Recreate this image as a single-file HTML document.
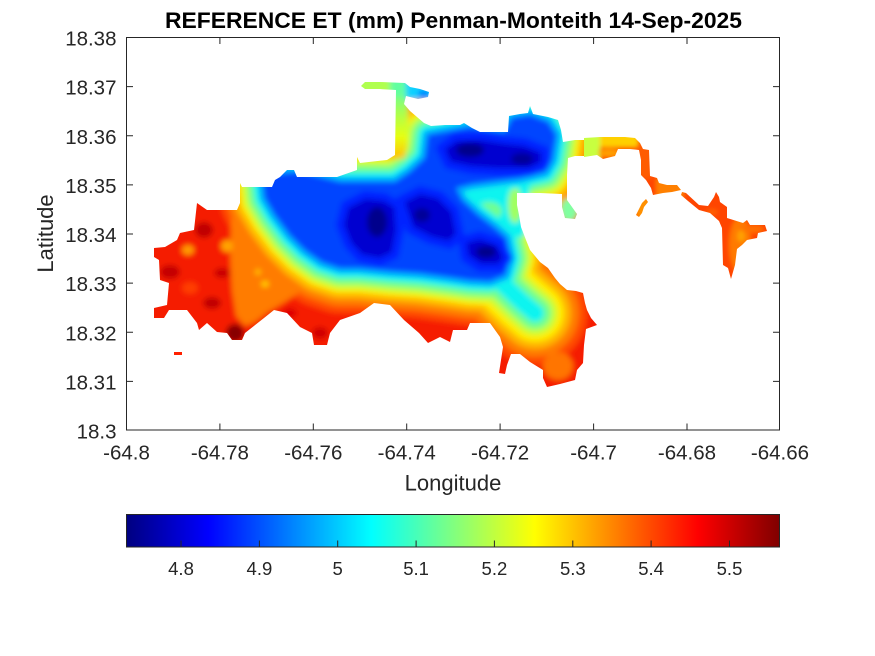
<!DOCTYPE html>
<html><head><meta charset="utf-8"><style>
html,body{margin:0;padding:0;background:#fff;}
svg{display:block;}
text{font-family:"Liberation Sans",Arial,sans-serif;fill:#262626;}
</style></head><body>
<svg width="875" height="656" viewBox="0 0 875 656" xmlns="http://www.w3.org/2000/svg">
<defs>
<linearGradient id="jet" x1="0" y1="0" x2="1" y2="0">
<stop offset="0" stop-color="#000080"/><stop offset="0.125" stop-color="#0000ff"/><stop offset="0.375" stop-color="#00ffff"/><stop offset="0.5" stop-color="#80ff80"/><stop offset="0.625" stop-color="#ffff00"/><stop offset="0.875" stop-color="#ff0000"/><stop offset="1" stop-color="#800000"/>
</linearGradient>
<linearGradient id="stemg" gradientUnits="userSpaceOnUse" x1="0" y1="88" x2="0" y2="158">
<stop offset="0" stop-color="#60ffa0"/><stop offset="0.35" stop-color="#a8ff50"/><stop offset="0.7" stop-color="#e8ff10"/><stop offset="1" stop-color="#ffc000"/>
</linearGradient>
<filter id="bl" filterUnits="userSpaceOnUse" x="0" y="0" width="875" height="656"><feGaussianBlur stdDeviation="2.6"/></filter>
<filter id="bl2" filterUnits="userSpaceOnUse" x="0" y="0" width="875" height="656"><feGaussianBlur stdDeviation="2"/></filter>
<clipPath id="mainclip">
<path d="M361,86 L365,82 L380,82 L405,83 L410,87 L420,89 L429,92 L428,97 L418,99 L406,96 L404,104 L410,111 L417,117 L424,123 L431,126 L445,125 L460,125 L464,123 L472,128 L480,132 L508,132 L509,116 L520,114 L528,113 L530,106 L533,114 L548,117 L558,120 L561,130 L563,142 L575,140 L584,140 L584,156 L575,156 L568,158 L567,175 L567,200 L572,207 L577,214 L575,219 L565,218 L562,207 L562,194 L540,193 L517,193 L517,205 L519,215 L521,227 L526,240 L530,250 L540,262 L548,268 L555,278 L560,284 L567,290 L576,291 L583,293 L585,303 L587,310 L591,318 L597,325 L586,329 L584,345 L583,363 L577,370 L575,380 L560,384 L547,387 L543,378 L543,370 L530,362 L520,354 L511,354 L507,365 L505,374 L499,373 L501,360 L503,347 L500,337 L490,323 L470,323 L467,330 L453,330 L450,342 L440,337 L428,343 L419,333 L404,320 L390,305 L374,303 L360,313 L340,320 L330,333 L327,345 L314,345 L312,333 L300,327 L287,313 L274,310 L264,318 L245,333 L242,340 L232,340 L227,333 L217,332 L207,323 L199,330 L197,323 L187,310 L169,310 L164,318 L154,318 L154,308 L167,305 L169,283 L160,280 L159,260 L154,257 L154,248 L165,247 L177,240 L180,233 L194,230 L197,203 L207,210 L237,210 L240,203 L240,183 L242,187 L272,187 L275,180 L280,177 L287,170 L294,170 L297,177 L337,177 L357,170 L357,157 L360,163 L387,160 L395,155 L396,90 L380,89 L365,89 Z"/>
</clipPath>
<clipPath id="eastclip">
<path d="M584,138 L600,137 L625,137 L635,138 L640,143 L643,149 L649,150 L650,176 L657,178 L659,183 L667,185 L677,185 L681,190 L672,192 L663,193 L653,195 L651,188 L646,180 L641,175 L641,160 L639,150 L630,149 L618,149 L615,156 L603,159 L597,155 L584,157 Z"/>
<path d="M682,192 L686,193 L699,205 L708,206 L714,197 L716,192 L719,197 L720,202 L727,207 L727,218 L743,223 L747,220 L750,225 L765,225 L767,231 L758,233 L757,238 L747,240 L742,245 L737,249 L735,265 L733,272 L731,279 L728,268 L723,265 L722,228 L719,221 L710,213 L699,210 L688,201 L681,195 Z"/>
<path d="M646,199 L648,202 L644,207 L642,213 L639,217 L636,215 L639,209 L642,203 Z"/>
</clipPath>
<path id="bp" d="M262,175 L300,172 L340,182 L395,182 L410,172 L425,158 L428,135 L470,127 L505,132 L512,118 L530,115 L548,122 L556,135 L552,160 L545,172 L520,178 L495,181 L472,184 L456,188 L462,200 L478,215 L495,228 L506,238 L510,258 L505,275 L490,281 L470,280 L450,277 L420,273 L390,271 L360,268 L340,268 L322,262 L305,250 L290,235 L275,215 L265,198 Z"/>
<path id="rp" d="M502,283 L522,302 L535,313" fill="none" stroke-linecap="round" stroke-linejoin="round"/>
</defs>

<rect x="0" y="0" width="875" height="656" fill="#ffffff"/>

<!-- main landmass -->
<g clip-path="url(#mainclip)">
<g filter="url(#bl)" stroke-linejoin="round">
<rect x="130" y="60" width="480" height="350" fill="#f51a00"/>
<ellipse cx="235" cy="333" rx="9" ry="9" fill="#880000"/>
<ellipse cx="204" cy="230" rx="9" ry="8" fill="#c00000"/>
<ellipse cx="170" cy="272" rx="10" ry="7" fill="#c40000"/>
<ellipse cx="212" cy="303" rx="9" ry="6" fill="#c00000"/>
<ellipse cx="222" cy="273" rx="8" ry="5" fill="#c80000"/>
<ellipse cx="320" cy="333" rx="8" ry="6" fill="#d00000"/>
<ellipse cx="290" cy="313" rx="7" ry="5" fill="#dd0000"/>
<ellipse cx="190" cy="288" rx="8" ry="6" fill="#ff3c00"/>
<use href="#bp" fill="#ff4a00" stroke="#ff4a00" stroke-width="90"/>
<use href="#rp" stroke="#ff4a00" stroke-width="104"/>
<use href="#bp" fill="#ff7c00" stroke="#ff7c00" stroke-width="76"/>
<use href="#rp" stroke="#ff7c00" stroke-width="88"/>
<path d="M232,205 L245,215 L258,245 L275,262 L292,278 L300,292 L285,302 L268,312 L255,322 L245,326 L236,316 L232,290 L230,250 Z" fill="#ff7c00"/>
<ellipse cx="188" cy="250" rx="6" ry="5" fill="#ff9c00"/>
<ellipse cx="227" cy="246" rx="6" ry="6" fill="#ffa400"/>
<ellipse cx="558" cy="366" rx="15" ry="14" fill="#ff7400"/>
<use href="#bp" fill="#ffb400" stroke="#ffb400" stroke-width="62"/>
<use href="#rp" stroke="#ffb400" stroke-width="72"/>
<use href="#bp" fill="#ffec00" stroke="#ffec00" stroke-width="50"/>
<use href="#rp" stroke="#ffec00" stroke-width="58"/>
<ellipse cx="265" cy="284" rx="4" ry="3" fill="#ffd000"/>
<ellipse cx="258" cy="272" rx="3" ry="3" fill="#ffc000"/>
<use href="#bp" fill="#c4ff3a" stroke="#c4ff3a" stroke-width="42"/>
<use href="#rp" stroke="#c4ff3a" stroke-width="44"/>
<use href="#bp" fill="#70ff8f" stroke="#70ff8f" stroke-width="32"/>
<use href="#rp" stroke="#70ff8f" stroke-width="32"/>
<path d="M456,186 L500,180 L530,185 L525,236 L505,240 L470,232 Z" fill="#10f4f0"/>
<ellipse cx="489" cy="211" rx="13" ry="9" fill="#70ff8f"/>
<ellipse cx="515" cy="205" rx="7" ry="18" fill="#a0ff60"/>
<use href="#bp" fill="#10f4f0" stroke="#10f4f0" stroke-width="20"/>
<use href="#rp" stroke="#10f4f0" stroke-width="18"/>
<use href="#bp" fill="#00a8ff" stroke="#00a8ff" stroke-width="10"/>
<use href="#bp" fill="#0044ff"/>
<g fill="#0000d0" stroke="#0020ff" stroke-width="8">
<path d="M345,205 L365,195 L385,197 L398,205 L400,230 L395,255 L380,262 L360,258 L348,245 L340,225 Z"/>
<path d="M400,200 L420,190 L440,195 L455,210 L460,235 L450,245 L430,240 L410,230 Z"/>
<path d="M462,240 L480,235 L500,242 L508,258 L500,268 L480,268 L465,258 Z"/>
<path d="M440,148 L455,137 L480,136 L505,140 L525,142 L545,150 L545,165 L530,172 L500,172 L470,170 L448,165 Z"/>
</g>
<ellipse cx="377" cy="222" rx="10" ry="15" fill="#00008c"/>
<ellipse cx="470" cy="150" rx="14" ry="7" fill="#00008c"/>
<ellipse cx="522" cy="159" rx="11" ry="6" fill="#000098"/>
<ellipse cx="486" cy="252" rx="10" ry="6" fill="#00008c"/>
<ellipse cx="422" cy="215" rx="8" ry="7" fill="#000098"/>
<!-- north protrusion patches -->
<path d="M388,86 L408,86 L408,140 L405,158 L388,160 Z" fill="url(#stemg)"/>
<rect x="355" y="76" width="35" height="18" fill="#b0ff50"/>
<rect x="390" y="76" width="16" height="20" fill="#60ffa0"/>
<rect x="406" y="78" width="30" height="22" fill="#10d0ff"/>
<ellipse cx="424" cy="94" rx="6" ry="4" fill="#0080ff"/>
<ellipse cx="569" cy="210" rx="9" ry="12" fill="#80ffa0"/>
</g>
</g>

<!-- east chain & island -->
<g clip-path="url(#eastclip)">
<g filter="url(#bl2)">
<rect x="575" y="128" width="205" height="160" fill="#ff4400"/>
<rect x="580" y="132" width="20" height="30" fill="#c8ff40"/>
<rect x="600" y="132" width="38" height="15" fill="#ffd000"/>
<ellipse cx="609" cy="153" rx="11" ry="4" fill="#ffa000"/>
<rect x="637" y="145" width="15" height="34" fill="#ff5c00"/>
<rect x="656" y="178" width="28" height="20" fill="#ff8000"/>
<ellipse cx="740" cy="245" rx="11" ry="28" fill="#ff7a00"/>
<ellipse cx="752" cy="229" rx="12" ry="4" fill="#ff7000"/>
<ellipse cx="712" cy="212" rx="6" ry="3" fill="#ff6000"/>
<ellipse cx="741" cy="236" rx="4" ry="6" fill="#ffa000"/>
<rect x="636" y="198" width="14" height="20" fill="#ff9000"/>
</g>
</g>
<rect x="174" y="352" width="8" height="3" fill="#ff2000"/>

<!-- axes box -->
<rect x="126.5" y="37.5" width="653" height="392.5" fill="none" stroke="#262626" stroke-width="1"/>
<g stroke="#262626" stroke-width="1">
<path d="M219.9,430 V423.5 M313.3,430 V423.5 M406.7,430 V423.5 M500.1,430 V423.5 M593.6,430 V423.5 M687,430 V423.5"/>
<path d="M219.9,37.5 V44 M313.3,37.5 V44 M406.7,37.5 V44 M500.1,37.5 V44 M593.6,37.5 V44 M687,37.5 V44"/>
<path d="M126.5,86.6 H133 M126.5,135.8 H133 M126.5,184.9 H133 M126.5,234 H133 M126.5,283.1 H133 M126.5,332.3 H133 M126.5,381.4 H133"/>
<path d="M779.5,86.6 H773 M779.5,135.8 H773 M779.5,184.9 H773 M779.5,234 H773 M779.5,283.1 H773 M779.5,332.3 H773 M779.5,381.4 H773"/>
</g>

<!-- tick labels -->
<g font-size="20.5" text-anchor="end">
<text x="116.5" y="45.5">18.38</text>
<text x="116.5" y="94.6">18.37</text>
<text x="116.5" y="143.8">18.36</text>
<text x="116.5" y="192.9">18.35</text>
<text x="116.5" y="242">18.34</text>
<text x="116.5" y="291.1">18.33</text>
<text x="116.5" y="340.3">18.32</text>
<text x="116.5" y="389.4">18.31</text>
<text x="116.5" y="438.5">18.3</text>
</g>
<g font-size="20.5" text-anchor="middle">
<text x="126.5" y="459.5">-64.8</text>
<text x="219.9" y="459.5">-64.78</text>
<text x="313.3" y="459.5">-64.76</text>
<text x="406.7" y="459.5">-64.74</text>
<text x="500.1" y="459.5">-64.72</text>
<text x="593.6" y="459.5">-64.7</text>
<text x="687" y="459.5">-64.68</text>
<text x="780" y="459.5">-64.66</text>
</g>

<text x="453" y="490.5" font-size="22" text-anchor="middle">Longitude</text>
<text transform="translate(53,233.5) rotate(-90)" font-size="22" text-anchor="middle">Latitude</text>
<text x="453.5" y="28" font-size="22" font-weight="bold" text-anchor="middle" textLength="577" lengthAdjust="spacingAndGlyphs" style="fill:#000">REFERENCE ET (mm) Penman-Monteith 14-Sep-2025</text>

<!-- colorbar -->
<rect x="126.5" y="514.5" width="653" height="32.5" fill="url(#jet)" stroke="#262626" stroke-width="1"/>
<g stroke="#262626" stroke-width="1">
<path d="M181,547 V540.5 M259.4,547 V540.5 M337.7,547 V540.5 M416.1,547 V540.5 M494.4,547 V540.5 M572.8,547 V540.5 M651.1,547 V540.5 M729.5,547 V540.5"/>
</g>
<g font-size="18.5" text-anchor="middle">
<text x="181" y="575">4.8</text>
<text x="259.4" y="575">4.9</text>
<text x="337.7" y="575">5</text>
<text x="416.1" y="575">5.1</text>
<text x="494.4" y="575">5.2</text>
<text x="572.8" y="575">5.3</text>
<text x="651.1" y="575">5.4</text>
<text x="729.5" y="575">5.5</text>
</g>
</svg>
</body></html>
